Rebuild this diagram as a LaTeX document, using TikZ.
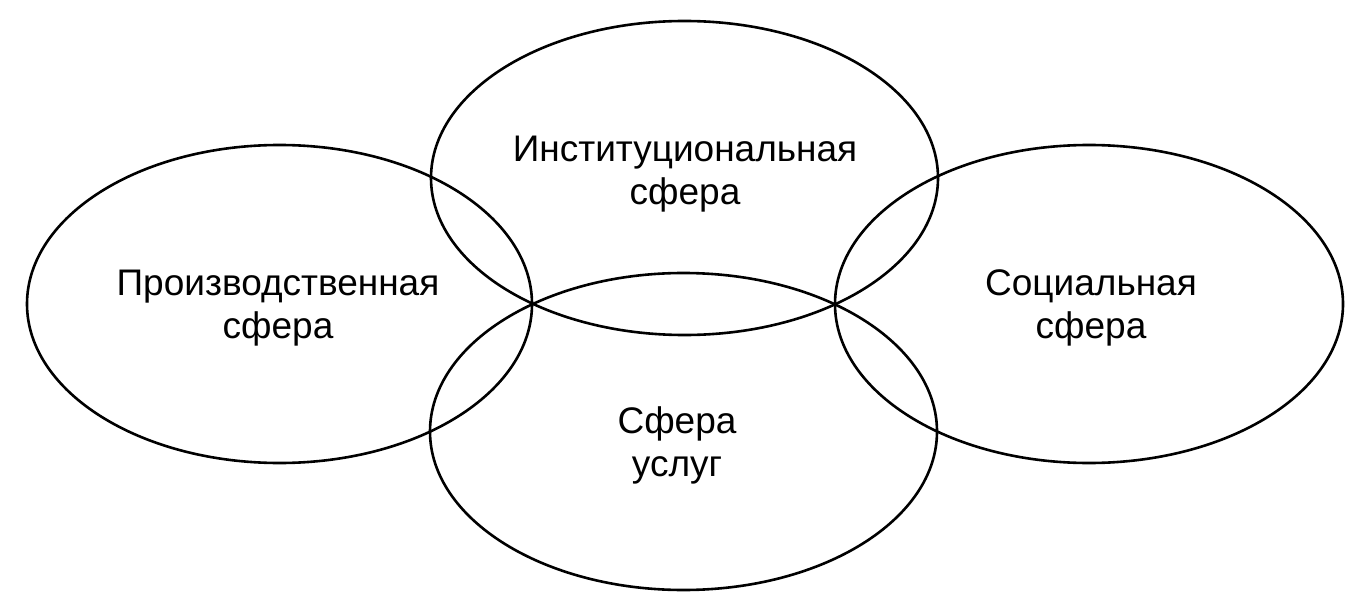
\documentclass[tikz,border=0pt]{standalone}
\usepackage{fontspec}
\setmainfont{Liberation Sans}
\begin{document}
\begin{tikzpicture}[x=1pt,y=-1pt,
  sphere/.style={draw=black,line width=2.6pt},
  lbl/.style={align=center,font=\fontsize{37}{43}\selectfont,inner sep=0pt}]
\useasboundingbox (0,0) rectangle (1368,604);
\draw[sphere] (279.5,304) ellipse [x radius=252.5, y radius=159];
\draw[sphere] (684.5,178) ellipse [x radius=253.5, y radius=157];
\draw[sphere] (683.5,431.5) ellipse [x radius=253.5, y radius=158.5];
\draw[sphere] (1089,304) ellipse [x radius=254, y radius=159];
\node[lbl] (prod) at (278,308) {Производственная\\сфера};
\node[lbl] (inst) at (685,174) {Институциональная\\сфера};
\node[lbl] (soc) at (1091,308) {Социальная\\сфера};
\node[lbl] (usl) at (677,445) {Сфера\\услуг};
\end{tikzpicture}
\end{document}
